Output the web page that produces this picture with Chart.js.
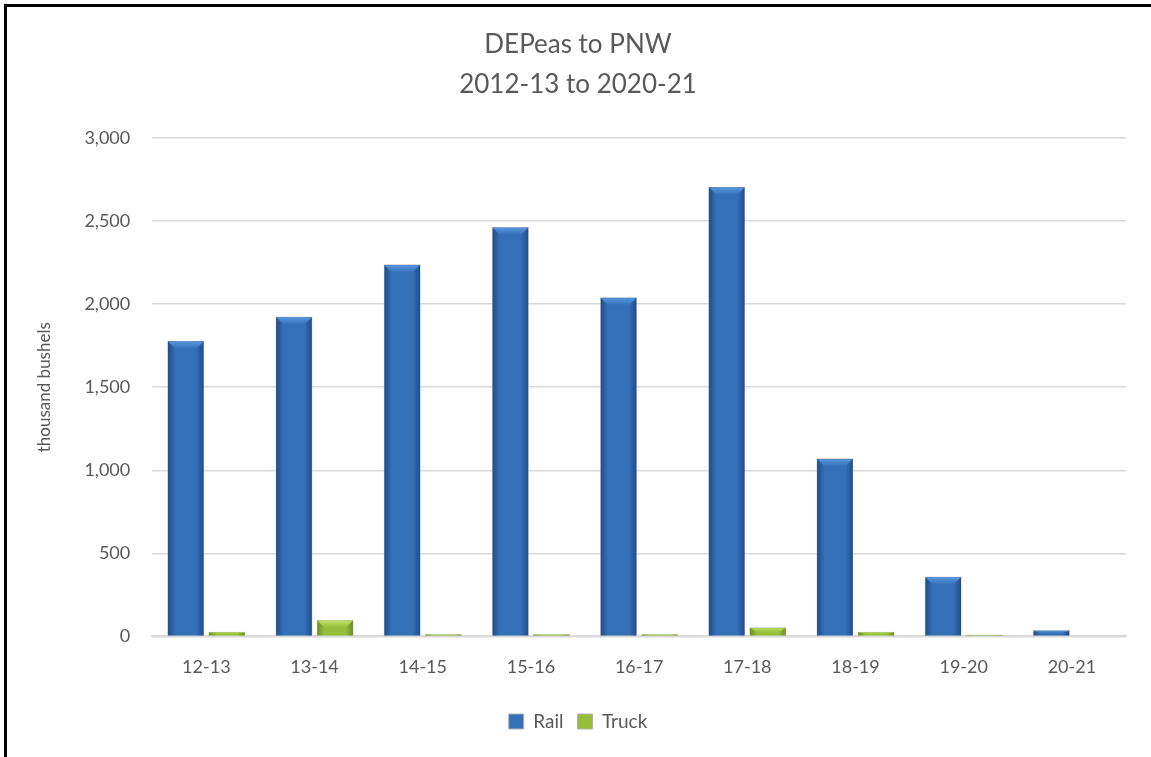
<!DOCTYPE html>
<html>
<head>
<meta charset="utf-8">
<script src="https://cdn.jsdelivr.net/npm/chart.js@4/dist/chart.umd.min.js"></script>
<style>
    html, body { margin: 0; padding: 0; background: #fff; overflow: hidden; }
    #wrap {
        position: absolute; left: 4px; top: 4px;
        width: 1147px; height: 753px;
        border-left: 3px solid #000; border-top: 3px solid #000;
        box-sizing: border-box;
    }
    #chart { display: block; }
</style>
</head>
<body>
<div id="wrap"><canvas id="chart" width="1144" height="750"></canvas></div>
<script>
/* DEPeas to PNW shipments, thousand bushels */
var seasons = ["12-13", "13-14", "14-15", "15-16", "16-17", "17-18", "18-19", "19-20", "20-21"];
var railValues = [1780, 1925, 2240, 2465, 2042, 2707, 1072, 360, 38];
var truckValues = [28, 100, 15, 15, 15, 55, 28, 12, 0];
var titleLines = ["DEPeas to PNW", "2012-13 to 2020-21"];

var fontFamily = "Lato, 'Open Sans', sans-serif";
var textColor = "#595959";

var palette = {
    Rail: { light: "#3470B8", dark: "#1F4A85", top: "#5B9BE0" },
    Truck: { light: "#96BE3A", dark: "#6A8A20", top: "#C4E46A" }
};

function barFill(name) {
    var p = palette[name];
    return function (ctx) {
        var el = ctx.element;
        if (!el || !el.width) return p.light;
        var x0 = el.x - el.width / 2;
        var g = ctx.chart.ctx.createLinearGradient(x0, 0, x0 + el.width, 0);
        g.addColorStop(0, p.dark);
        g.addColorStop(0.22, p.light);
        g.addColorStop(0.78, p.light);
        g.addColorStop(1, p.dark);
        return g;
    };
}

// light bevel on the top of each bar, like the source chart
var bevelPlugin = {
    id: "bevel",
    afterDatasetsDraw: function (chart) {
        var c = chart.ctx;
        chart.data.datasets.forEach(function (ds, di) {
            var p = palette[ds.label];
            chart.getDatasetMeta(di).data.forEach(function (el) {
                var h = el.base - el.y;
                if (h < 2) return;
                var bh = Math.min(8, h * 0.6);
                var left = el.x - el.width / 2, right = el.x + el.width / 2;
                var g = c.createLinearGradient(0, el.y, 0, el.y + bh);
                g.addColorStop(0, p.top);
                g.addColorStop(1, p.light);
                c.save();
                c.fillStyle = g;
                c.beginPath();
                c.moveTo(left + 1, el.y + 1);
                c.lineTo(right - 1, el.y + 1);
                c.lineTo(right - el.width * 0.22, el.y + bh);
                c.lineTo(left + el.width * 0.22, el.y + bh);
                c.closePath();
                c.fill();
                c.restore();
            });
        });
    }
};

var chart = new Chart(document.getElementById("chart").getContext("2d"), {
    type: "bar",
    data: {
        labels: seasons,
        datasets: [
            {
                label: "Rail",
                data: railValues,
                backgroundColor: barFill("Rail"),
                borderColor: "#c0c0c0",
                borderWidth: 0.6,
                categoryPercentage: 0.76,
                barPercentage: 0.9
            },
            {
                label: "Truck",
                data: truckValues,
                backgroundColor: barFill("Truck"),
                borderColor: "#c0c0c0",
                borderWidth: 0.6,
                categoryPercentage: 0.76,
                barPercentage: 0.9
            }
        ]
    },
    options: {
        responsive: false,
        animation: false,
        maintainAspectRatio: false,
        layout: { padding: { left: 23, right: 25, top: 10, bottom: 16 } },
        plugins: {
            title: {
                display: true,
                text: titleLines,
                color: textColor,
                font: { family: fontFamily, size: 26, weight: "normal", lineHeight: 1.52 },
                padding: { top: 8, bottom: 34 }
            },
            legend: {
                position: "bottom",
                labels: {
                    color: textColor,
                    font: { family: fontFamily, size: 19 },
                    boxWidth: 15,
                    boxHeight: 15,
                    padding: 14,
                    generateLabels: function (c) {
                        return c.data.datasets.map(function (ds, i) {
                            return {
                                text: ds.label,
                                fillStyle: palette[ds.label].light,
                                strokeStyle: "#b0b0b0",
                                lineWidth: 1,
                                fontColor: textColor,
                                datasetIndex: i
                            };
                        });
                    }
                }
            },
            tooltip: { enabled: false }
        },
        scales: {
            x: {
                grid: { display: false, drawTicks: false },
                border: { color: "#d9d9d9", width: 2 },
                ticks: { color: textColor, font: { family: fontFamily, size: 18 }, padding: 20 }
            },
            y: {
                min: 0,
                max: 3000,
                grid: { color: "#d9d9d9", lineWidth: 1.5, drawTicks: false },
                border: { display: false },
                ticks: {
                    stepSize: 500,
                    color: textColor,
                    font: { family: fontFamily, size: 18 },
                    padding: 22,
                    callback: function (v) { return v.toLocaleString("en-US"); }
                },
                title: {
                    display: true,
                    text: "thousand bushels",
                    color: textColor,
                    font: { family: fontFamily, size: 17 },
                    padding: { bottom: 8 }
                }
            }
        }
    },
    plugins: [bevelPlugin]
});
// second pass so the gradients can read each bar's size
chart.update();
</script>
</body>
</html>
